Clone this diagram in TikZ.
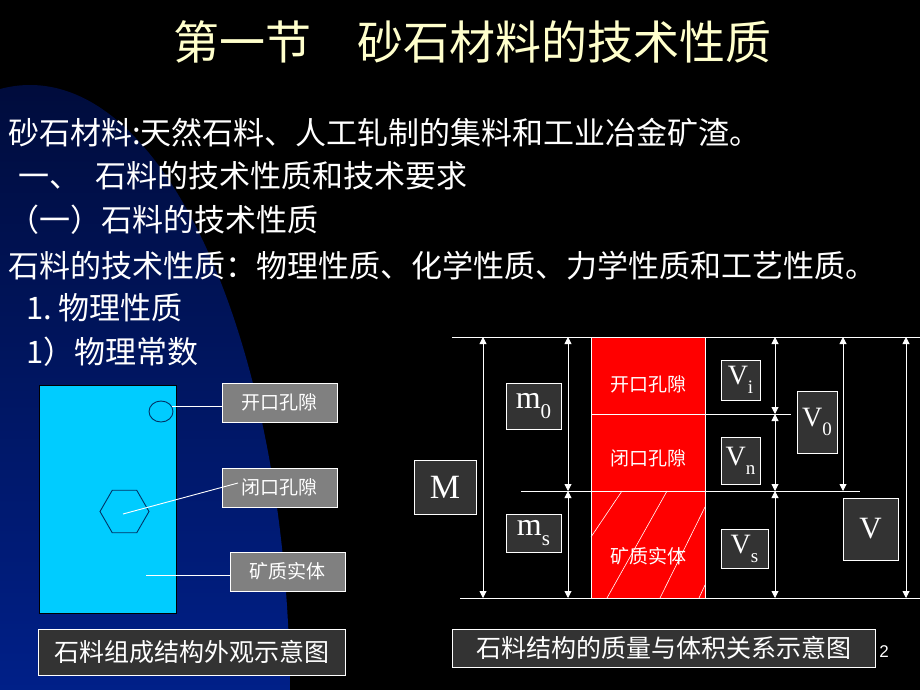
\documentclass[tikz,border=0pt]{standalone}
\usepackage{fontspec}
\setmainfont{Liberation Serif}
\newfontfamily\cjkfont{Noto Sans CJK SC}
\newfontfamily\arialfont{Liberation Sans}
\usetikzlibrary{arrows.meta,shapes.geometric}
\definecolor{bluedark}{RGB}{0,12,60}
\definecolor{bluebright}{RGB}{0,52,215}
\definecolor{titleyellow}{RGB}{255,255,204}
\definecolor{rockcyan}{RGB}{0,204,255}
\definecolor{poreline}{RGB}{0,51,102}
\definecolor{labelgray}{RGB}{128,128,128}
\definecolor{boxgray}{RGB}{51,51,51}
\definecolor{colred}{RGB}{255,0,0}
\newcommand\fs[1]{\fontsize{#1}{#1}\selectfont}
\newcommand\lowsub[2]{\raisebox{-0.32em}{\fs{#1}#2}}
\begin{document}
\begin{tikzpicture}[x=1pt,y=-1pt,
  titletext/.style={text=titleyellow,font=\cjkfont\fs{46},inner sep=0pt},
  bodytext/.style={text=white,font=\cjkfont\fs{31},anchor=west,inner sep=0pt},
  rockbox/.style={draw=black,fill=rockcyan,minimum width=137pt,minimum height=228pt,inner sep=0pt,line width=0.8pt},
  poreshape/.style={draw=poreline,line width=0.9pt,inner sep=0pt},
  graylabel/.style={draw=white,fill=labelgray,text=white,font=\cjkfont\fs{19},minimum width=115pt,minimum height=39pt,inner sep=0pt,line width=0.9pt},
  capbox/.style={draw=white,fill=boxgray,text=white,font=\cjkfont\fs{25},inner sep=0pt,line width=0.9pt},
  leader/.style={draw=white,line width=0.9pt},
  redcell/.style={draw=white,fill=colred,minimum width=114pt,inner sep=0pt,line width=0.8pt},
  redtext/.style={text=white,font=\cjkfont\fs{19},inner sep=0pt},
  symbox/.style={draw=white,fill=boxgray,text=white,inner sep=0pt,line width=0.9pt},
  guideline/.style={draw=white,line width=0.9pt},
  dimarrow/.style={draw=white,line width=0.9pt,{Triangle[width=7pt,length=7pt]}-{Triangle[width=7pt,length=7pt]}},
  hatchline/.style={draw=white,line width=0.6pt}
]
\useasboundingbox (0,0) rectangle (920,690);
\fill[black] (0,0) rectangle (920,690);
\begin{scope}
\clip (0,0) rectangle (920,690);
\shade[top color=bluedark, middle color=bluebright, bottom color=bluebright] (30,700) ellipse [x radius=260, y radius=615];
\end{scope}

% texts
\node[titletext] (title) at (472,42) {第一节　砂石材料的技术性质};
\node[bodytext] (l1) at (8,133) {砂石材料:天然石料、人工轧制的集料和工业冶金矿渣。};
\node[bodytext] (l2) at (18,176) {一、\hspace{15pt}石料的技术性质和技术要求};
\node[bodytext] (l3) at (8,220) {（一）石料的技术性质};
\node[bodytext] (l4) at (8,266) {石料的技术性质：物理性质、化学性质、力学性质和工艺性质。};
\node[bodytext] (l5) at (26,308) {1.\hspace{6pt}物理性质};
\node[bodytext] (l6) at (26,352) {1）物理常数};

% left diagram
\node[rockbox] (rock) at (107.5,499) {};
\node[poreshape, ellipse, minimum width=24pt, minimum height=21pt] (openpore) at (161,411.5) {};
\node[poreshape, regular polygon, regular polygon sides=6, minimum size=49pt] (closedpore) at (124.5,511.5) {};
\node[graylabel] (lopen) at (279.5,402.5) {开口孔隙};
\node[graylabel] (lclosed) at (279.5,487.5) {闭口孔隙};
\node[graylabel] (lsolid) at (287.5,571.5) {矿质实体};
\node[capbox, minimum width=307pt, minimum height=46pt] (capL) at (191.5,652) {石料组成结构外观示意图};
\draw[leader] (openpore.25) -- (openpore.25 -| lopen.west);
\coordinate (closedend) at (238,483);
\draw[leader] ([shift={(-1.5,2.5)}]closedpore.center) -- (closedend);
\coordinate (solidpt) at (146,575);
\draw[leader] (solidpt) -- (solidpt -| lsolid.west);

% right diagram: column
\node[redcell, minimum height=77pt] (ropen) at (648,375.5) {};
\node[redcell, minimum height=77pt] (rclosed) at (648,452.5) {};
\node[redcell, minimum height=107pt] (rsolid) at (648,544.5) {};
\draw[hatchline] (591,537) -- (622,491);
\draw[hatchline] (607,598) -- (667,491);
\draw[hatchline] (660,598) -- (705,507);
\draw[hatchline] (699,598) -- (705,585);
\node[redtext] (topen) at (648,384) {开口孔隙};
\node[redtext] (tclosed) at (648,458) {闭口孔隙};
\node[redtext] (tsolid) at (648,556) {矿质实体};

% horizontal guide lines
\coordinate (topL) at (452,337); \coordinate (topR) at (920,337);
\coordinate (botL) at (460,598); \coordinate (botR) at (920,598);
\coordinate (midL) at (521,491); \coordinate (midR) at (860,491);
\coordinate (viL) at (591,414); \coordinate (viR) at (791,414);
\draw[guideline] (topL) -- (topR);
\draw[guideline] (botL) -- (botR);
\draw[guideline] (midL) -- (midR);
\draw[guideline] (viL) -- (viR);

% dimension arrows
\coordinate (aMt) at (483,337); \coordinate (aMb) at (483,598);
\coordinate (amt) at (568,337); \coordinate (amm) at (568,491); \coordinate (amb) at (568,598);
\coordinate (avt) at (775,337); \coordinate (avm) at (775,414); \coordinate (avn) at (775,491); \coordinate (avb) at (775,598);
\coordinate (aot) at (843,337); \coordinate (aob) at (843,491);
\coordinate (aVt) at (906,337); \coordinate (aVb) at (906,598);
\draw[dimarrow] (aMt) -- (aMb);
\draw[dimarrow] (amt) -- (amm);
\draw[dimarrow] (amm) -- (amb);
\draw[dimarrow] (avt) -- (avm);
\draw[dimarrow] (avm) -- (avn);
\draw[dimarrow] (avn) -- (avb);
\draw[dimarrow] (aot) -- (aob);
\draw[dimarrow] (aVt) -- (aVb);

% symbol boxes
\node[symbox, minimum width=62pt, minimum height=54pt, font=\fs{34}] (bM) at (445,487) {M};
\node[symbox, minimum width=55pt, minimum height=46pt, font=\fs{32}] (bm0) at (533.5,406) {m\lowsub{21}{0}};
\node[symbox, minimum width=55pt, minimum height=38pt, font=\fs{32}] (bms) at (533.5,533) {m\lowsub{21}{s}};
\node[symbox, minimum width=39pt, minimum height=40pt, font=\fs{28}] (bVi) at (740.5,380) {V\lowsub{19}{i}};
\node[symbox, minimum width=40pt, minimum height=62pt, font=\fs{28}] (bV0) at (817,422) {V\lowsub{19}{0}};
\node[symbox, minimum width=39pt, minimum height=47pt, font=\fs{28}] (bVn) at (740.5,460.5) {V\lowsub{19}{n}};
\node[symbox, minimum width=55pt, minimum height=62pt, font=\fs{31}] (bV) at (870.5,529) {V};
\node[symbox, minimum width=47pt, minimum height=39pt, font=\fs{28}] (bVs) at (744.5,548.5) {V\lowsub{19}{s}};

\node[capbox, minimum width=423pt, minimum height=38pt] (capR) at (663.5,648) {石料结构的质量与体积关系示意图};
\node[text=white, font=\arialfont\fs{17}, inner sep=0pt] (pagenum) at (884,652) {2};
\end{tikzpicture}
\end{document}
